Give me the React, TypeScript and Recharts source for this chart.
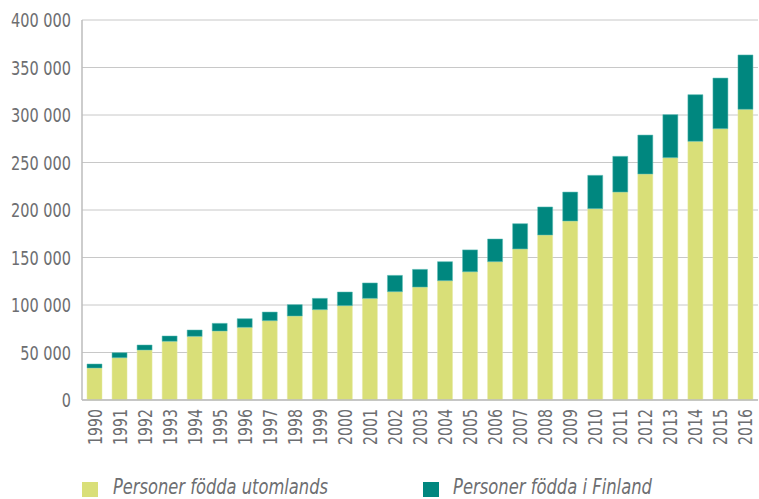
import React from "react";
import { BarChart, Bar, XAxis, YAxis, CartesianGrid, Legend } from "recharts";

const years = ["1990","1991","1992","1993","1994","1995","1996","1997","1998","1999","2000","2001","2002","2003","2004","2005","2006","2007","2008","2009","2010","2011","2012","2013","2014","2015","2016"];
const foddaUtomlands = [33700,44500,52600,61800,67000,72600,76500,83500,88400,95100,99300,107000,114000,118900,125600,135000,145600,159000,173700,188400,201400,218900,237900,255100,272300,285600,306000];
const totals = [37900,49800,57900,67400,73700,80700,85600,92600,100400,107000,113700,123200,131200,137500,145600,158000,169500,185600,203200,218900,236500,256500,278900,300400,321400,338900,363200];
const foddaIFinland = totals.map((t, i) => t - foddaUtomlands[i]);
const yTicks = [0, 50000, 100000, 150000, 200000, 250000, 300000, 350000, 400000];

const seriesNames = ["Personer födda utomlands", "Personer födda i Finland"];
const YELLOW = "#d9df78";
const TEAL = "#00877f";
const TEXT = "#6d6e71";
const FONT = "'DejaVu Sans Condensed', 'Liberation Sans Narrow', 'Roboto', sans-serif";

const data = years.map((y, i) => ({
  year: y,
  utomlands: foddaUtomlands[i],
  finland: foddaIFinland[i],
}));

const fmt = (v: number) => {
  if (v === 0) return "0";
  const s = String(v);
  return s.slice(0, s.length - 3) + " " + s.slice(s.length - 3);
};

const numWidth = (s: string) => {
  let w = 0;
  for (const c of s) w += c === " " ? 4.8 : 9.2;
  return w;
};

const XTick = (props: any) => {
  const { x, y, payload } = props;
  const s = String(payload.value);
  return (
    <text
      x={x}
      y={y}
      transform={`rotate(-90, ${x}, ${y})`}
      textAnchor="end"
      dominantBaseline="central"
      fill={TEXT}
      fontSize={19}
      fontFamily={FONT}
      textLength={36}
      lengthAdjust="spacingAndGlyphs"
    >
      {s}
    </text>
  );
};

const YTick = (props: any) => {
  const { x, y, payload } = props;
  const s = fmt(payload.value);
  return (
    <text
      x={x}
      y={y}
      textAnchor="end"
      dominantBaseline="central"
      fill={TEXT}
      fontSize={19}
      fontFamily={FONT}
      textLength={numWidth(s)}
      lengthAdjust="spacingAndGlyphs"
    >
      {s}
    </text>
  );
};

const LegendContent = () => (
  <svg width={759} height={27} style={{ display: "block" }}>
    <rect x={82} y={10} width={16} height={15} fill={YELLOW} />
    <text x={113} y={22} fill={TEXT} fontSize={21} fontStyle="italic" fontFamily={FONT} textLength={215} lengthAdjust="spacingAndGlyphs">
      {seriesNames[0]}
    </text>
    <rect x={423} y={10} width={16} height={15} fill={TEAL} />
    <text x={453} y={22} fill={TEXT} fontSize={21} fontStyle="italic" fontFamily={FONT} textLength={199} lengthAdjust="spacingAndGlyphs">
      {seriesNames[1]}
    </text>
  </svg>
);

export default function App() {
  return (
    <div style={{ width: 759, height: 499, background: "#fff", position: "relative", overflow: "hidden" }}>
      <style>{`body{margin:0}`}</style>
      <BarChart
        width={759}
        height={499}
        data={data}
        margin={{ top: 20, right: 1, left: 0, bottom: 0 }}
      >
        <CartesianGrid vertical={false} stroke="#c8c8c8" strokeWidth={1} />
        <XAxis
          dataKey="year"
          interval={0}
          tickLine={false}
          tickSize={0}
          axisLine={{ stroke: "#bdbdbd", strokeWidth: 1.5 }}
          tick={<XTick />}
          tickMargin={9}
          height={99}
        />
        <YAxis
          width={82}
          domain={[0, 400000]}
          ticks={yTicks}
          tickLine={false}
          tickSize={0}
          axisLine={{ stroke: "#bdbdbd", strokeWidth: 1.5 }}
          tick={<YTick />}
          tickMargin={11}
        />
        <Legend
          verticalAlign="middle"
          align="center"
          layout="horizontal"
          content={<LegendContent />}
          wrapperStyle={{ position: "absolute", left: 0, top: 472, width: 759, height: 27 }}
        />
        <Bar dataKey="utomlands" name={seriesNames[0]} stackId="a" fill={YELLOW} stroke="#e6eaa6" strokeWidth={0.5} barSize={15} isAnimationActive={false} />
        <Bar dataKey="finland" name={seriesNames[1]} stackId="a" fill={TEAL} stroke="#5dbfb7" strokeWidth={0.5} barSize={15} isAnimationActive={false} />
      </BarChart>
    </div>
  );
}
